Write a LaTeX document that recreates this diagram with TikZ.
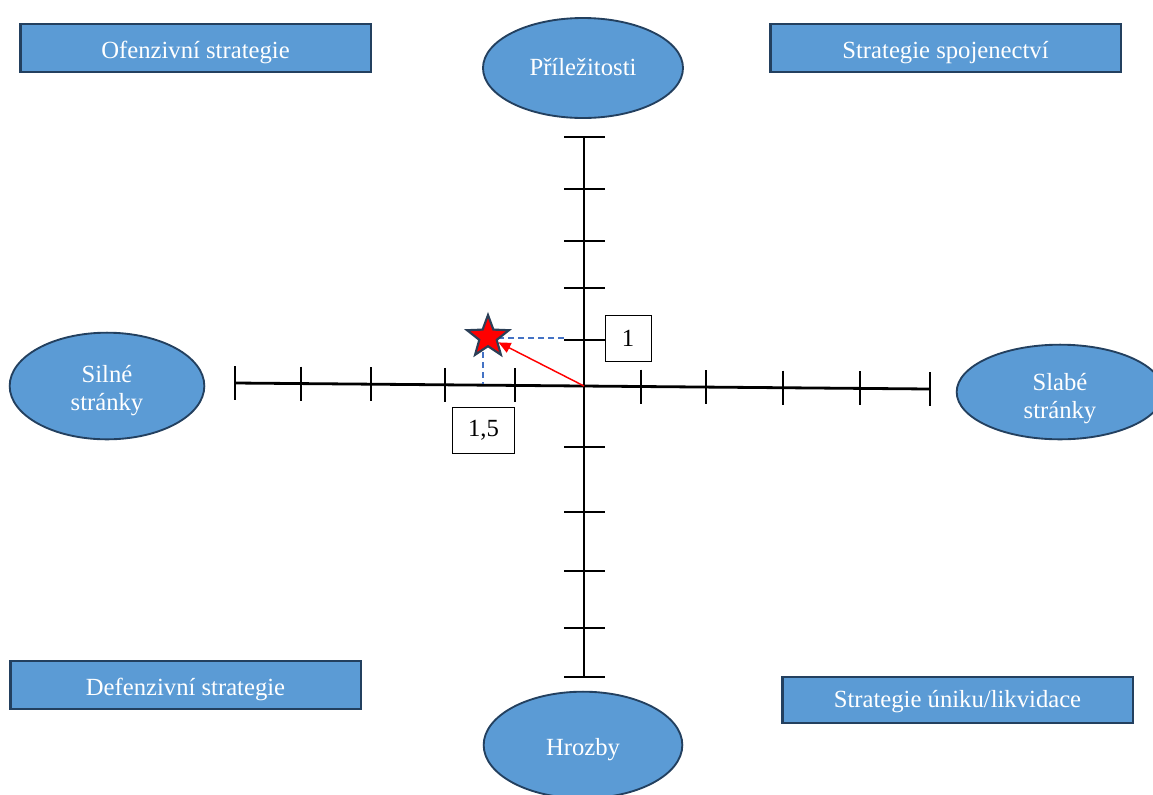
\documentclass[tikz,border=0pt]{standalone}
\usepackage{fontspec}
\setmainfont{Liberation Serif}
\usetikzlibrary{shapes.geometric,arrows.meta}
\definecolor{boxfill}{HTML}{5B9BD5}
\definecolor{boxline}{HTML}{23405F}
\definecolor{dashblue}{HTML}{4472C4}
\definecolor{starline}{HTML}{2B3F57}
\tikzset{
  stratbox/.style={draw=boxline, line width=2pt, fill=boxfill, text=white,
    font=\fontsize{18.5}{21}\selectfont, minimum width=263pt, minimum height=36pt, inner sep=0pt,
    text height=16pt, text depth=1pt},
  oval/.style={ellipse, draw=boxline, line width=1.4pt, fill=boxfill, text=white,
    font=\fontsize{18.5}{21}\selectfont, align=center, inner sep=0pt},
  axis/.style={line width=2.1pt, black},
  tick/.style={line width=2.1pt, black},
  valbox/.style={draw=black, line width=0.7pt, fill=white, font=\fontsize{18.5}{21}\selectfont, inner sep=0pt},
  guide/.style={dashblue, line width=0.8pt, dash pattern=on 4.5pt off 3pt},
}
\begin{document}
\begin{tikzpicture}[x=0.75pt,y=-0.75pt]
\useasboundingbox (0,0) rectangle (1153,794);
% axes
\coordinate (L) at (235,383);
\coordinate (R) at (930,389);
\coordinate (T) at (584,137);
\coordinate (B) at (584,677);
\coordinate (O) at (584,386);
\draw[axis] (L) -- (R);
\draw[axis] (T) -- (B);
% horizontal ticks
\foreach \x/\y in {235/383, 301/383.6, 371/384.2, 445/384.8, 515/385.4, 641/386.5, 706/387.1, 783/387.7, 860/388.4, 930/389}{
  \draw[tick] (\x,\y-17) -- (\x,\y+17);
}
% vertical ticks
\foreach \y in {137,189,241,288,340,447,512,571,628,677}{
  \draw[tick] (564,\y) -- (605,\y);
}
% strategy boxes
\node[stratbox] (ofe) at (195.5,48) {Ofenzivní strategie};
\node[stratbox] (spo) at (945.5,48) {Strategie spojenectví};
\node[stratbox] (def) at (185.5,685) {Defenzivní strategie};
\node[stratbox, minimum height=34.5pt, text height=13.5pt, text depth=3pt] (uni) at (957.5,700) {Strategie úniku/likvidace};
% ovals
\node[oval, minimum width=150pt, minimum height=75pt, text height=12pt, text depth=1.5pt] (pri) at (583,68) {Příležitosti};
\node[oval, minimum width=146pt, minimum height=80pt, text height=40pt, text depth=4pt] (sil) at (107,386) {Silné\\stránky};
\node[oval, minimum width=155pt, minimum height=71pt, text height=42pt, text depth=3pt] (sla) at (1060,392) {Slabé\\stránky};
\node[oval, minimum width=149pt, minimum height=80pt, text height=15pt, text depth=0pt] (hro) at (583,745) {Hrozby};
% value boxes
\node[valbox, minimum width=34.5pt, minimum height=35pt] (v1) at (628,338.5) {1};
\node[valbox, minimum width=47pt, minimum height=34pt] (v15) at (483.5,430.5) {1,5};
% star and guides
\coordinate (hx) at (565,338);
\coordinate (vx) at (483,384);
\draw[guide] (488,338) -- (hx);
\draw[guide] (vx |- 0,352) -- (vx);
\node[star, star points=5, star point ratio=2.4, minimum size=33pt, inner sep=0pt,
      fill=red, draw=starline, line width=1.6pt] (star) at (488,337) {};
\draw[red, line width=1.1pt, -{Triangle[length=9pt,width=8pt]}] (O) -- (star);
\end{tikzpicture}
\end{document}
